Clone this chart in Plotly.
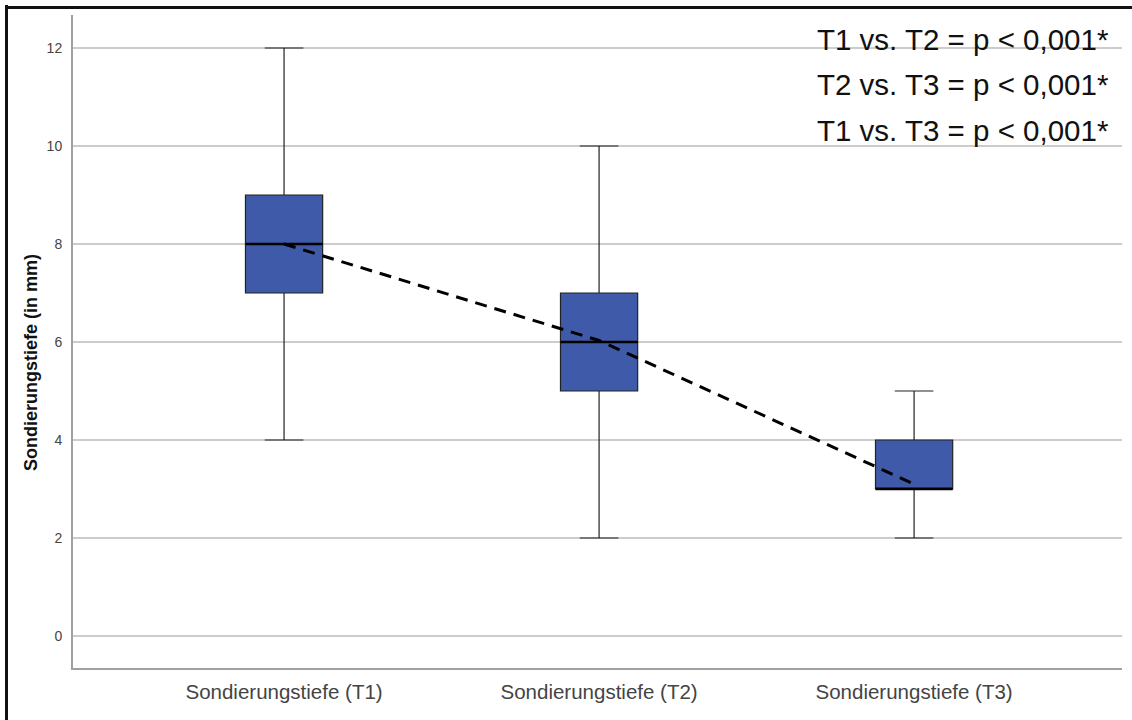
import plotly.graph_objects as go

categories = ["Sondierungstiefe (T1)", "Sondierungstiefe (T2)", "Sondierungstiefe (T3)"]
lower_whisker = [4, 2, 2]
q1_values = [7, 5, 3]
median_values = [8, 6, 3]
q3_values = [9, 7, 4]
upper_whisker = [12, 10, 5]
mean_values = [8.0, 6.03, 3.1]
y_ticks = [0, 2, 4, 6, 8, 10, 12]
annotation_lines = ["T1 vs. T2 = p < 0,001*", "T2 vs. T3 = p < 0,001*", "T1 vs. T3 = p < 0,001*"]
y_title = "Sondierungstiefe (in mm)"

BOX_W = 0.245
FILL = "#3f5aa8"

fig = go.Figure()
for i, c in enumerate(categories):
    fig.add_trace(go.Box(
        x=[i], q1=[q1_values[i]], median=[median_values[i]], q3=[q3_values[i]],
        lowerfence=[lower_whisker[i]], upperfence=[upper_whisker[i]],
        width=BOX_W, whiskerwidth=0.5, fillcolor=FILL,
        line=dict(color="#222222", width=1.2), showlegend=False, hoverinfo="skip",
    ))
    # thicker median line
    fig.add_trace(go.Scatter(
        x=[i - BOX_W / 2, i + BOX_W / 2], y=[median_values[i]] * 2,
        mode="lines", line=dict(color="#000000", width=2.6),
        showlegend=False, hoverinfo="skip",
    ))

fig.add_trace(go.Scatter(
    x=list(range(len(categories))), y=mean_values, mode="lines",
    line=dict(color="#000000", width=3, dash="12px,8px"),
    showlegend=False, hoverinfo="skip",
))

L, R, T, B = 73, 10, 15, 52
W, H = 1132, 720
pw, ph = W - L - R, H - T - B

fig.update_layout(
    width=W, height=H,
    margin=dict(l=L, r=R, t=T, b=B, pad=0),
    paper_bgcolor="white", plot_bgcolor="white",
    font=dict(family="Liberation Sans, Arial, sans-serif"),
    xaxis=dict(
        range=[-0.67, 2.66], tickmode="array",
        tickvals=list(range(len(categories))), ticktext=categories,
        showgrid=False, zeroline=False, showline=True, linecolor="#a0a0a0", linewidth=2,
        ticks="", tickfont=dict(size=20.5, color="#444444"), ticklabelstandoff=4,
    ),
    yaxis=dict(
        range=[-0.653, 12.673], tickmode="array", tickvals=y_ticks,
        ticktext=[str(v) for v in y_ticks],
        showgrid=True, gridcolor="#cccccc", gridwidth=1.5, zeroline=False,
        showline=True, linecolor="#a0a0a0", linewidth=2, ticks="",
        tickfont=dict(size=14, color="#444444"), ticklabelstandoff=6,
    ),
)

# outer frame (left and top)
fig.add_shape(type="line", xref="paper", yref="paper",
              x0=(6.5 - L) / pw, x1=(6.5 - L) / pw, y0=(H - B - 5) / ph, y1=-(B + 5) / ph,
              line=dict(color="#111111", width=3))
fig.add_shape(type="line", xref="paper", yref="paper",
              x0=(5 - L) / pw, x1=(W + 5 - L) / pw, y0=(H - B - 7.5) / ph, y1=(H - B - 7.5) / ph,
              line=dict(color="#111111", width=3))

# y-axis title
fig.add_annotation(text=f"<b>{y_title}</b>", xref="paper", yref="paper",
                   x=(31 - L) / pw, y=(H - B - 363) / ph, textangle=-90,
                   showarrow=False, font=dict(size=18, color="#111111"),
                   xanchor="center", yanchor="middle")

# p-value annotations
for k, txt in enumerate(annotation_lines):
    ypix = 40 + 45 * k
    fig.add_annotation(text=txt, xref="paper", yref="paper",
                       x=(1111 - L) / pw, y=(H - B - ypix) / ph,
                       showarrow=False, xanchor="right", yanchor="middle",
                       font=dict(size=29.5, color="#111111"))

fig.write_html("out.html", config={"displayModeBar": False},
               post_script="document.body.style.margin='0';document.body.style.overflow='hidden';")
